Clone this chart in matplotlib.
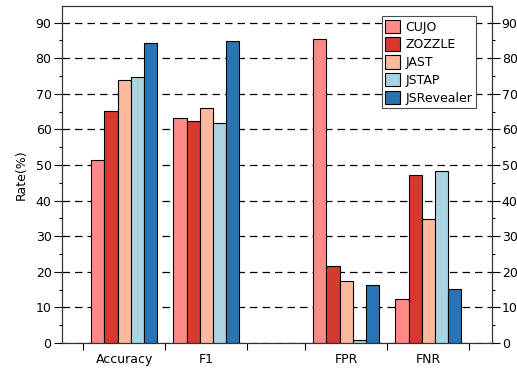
import matplotlib.pyplot as plt
from matplotlib.ticker import MultipleLocator
import numpy as np

metrics = ['Accuracy', 'F1', 'FPR', 'FNR']
tools = ['CUJO', 'ZOZZLE', 'JAST', 'JSTAP', 'JSRevealer']
colors = ['#fe8a88', '#d6392e', '#fcb99b', '#a9d3e0', '#2873b3']

cujo = [51.3, 63.2, 85.5, 12.4]
zozzle = [65.1, 62.5, 21.7, 47.3]
jast = [73.8, 66.1, 17.5, 34.7]
jstap = [74.7, 61.9, 0.7, 48.4]
jsrevealer = [84.4, 84.9, 16.3, 15.1]
values = [cujo, zozzle, jast, jstap, jsrevealer]

plt.rcParams.update({'font.size': 9, 'font.family': 'DejaVu Sans'})

fig = plt.figure(figsize=(5.17, 3.68), dpi=100)
ax = fig.add_axes([0.12, 0.068, 0.831, 0.915])

centers = np.array([0, 1, 2.7, 3.7])
width = 0.16
for i, (name, vals) in enumerate(zip(tools, values)):
    ax.bar(centers + (i - 2) * width, vals, width, color=colors[i],
           edgecolor='black', linewidth=0.8, label=name, zorder=3)

ax.set_xlim(-0.755, 4.47)
ax.set_ylim(0, 94.6)
ax.yaxis.set_major_locator(MultipleLocator(10))
ax.yaxis.set_minor_locator(MultipleLocator(5))
ax.grid(axis='y', which='major', linestyle=(0, (6, 4)), color='black', linewidth=0.9, zorder=0)

# group boundaries as x ticks, labels at centers
bounds = [-0.5, 0.5, 1.5, 2.2, 3.2, 4.2]
ax.set_xticks(bounds)
ax.set_xticklabels([])
ax.set_xticks(centers, minor=True)
ax.set_xticklabels(metrics, minor=True)
ax.tick_params(axis='x', which='minor', length=0, pad=7)
ax.tick_params(axis='x', which='major', length=5, width=0.8)
ax.tick_params(axis='y', which='major', length=6, width=0.8, pad=1.5)
ax.tick_params(axis='y', which='minor', length=2.5, width=0.8)
ax.set_ylabel('Rate(%)', labelpad=6)

ax2 = ax.twinx()
ax2.set_ylim(ax.get_ylim())
ax2.yaxis.set_major_locator(MultipleLocator(10))
ax2.yaxis.set_minor_locator(MultipleLocator(5))
ax2.tick_params(axis='y', which='major', length=6, width=0.8, pad=1.2)
ax2.tick_params(axis='y', which='minor', length=2.5, width=0.8)

for a in (ax, ax2):
    for s in a.spines.values():
        s.set_linewidth(0.8)
        s.set_color('0.2')

leg = ax.legend(loc='upper right', bbox_to_anchor=(0.978, 0.99), fancybox=False,
                edgecolor='0.3', framealpha=1, handlelength=1.2, handleheight=1.3,
                handletextpad=0.4, labelspacing=0.3, borderpad=0.3)
leg.get_frame().set_linewidth(0.8)
leg.set_zorder(5)

fig.savefig('out.png', dpi=100)
